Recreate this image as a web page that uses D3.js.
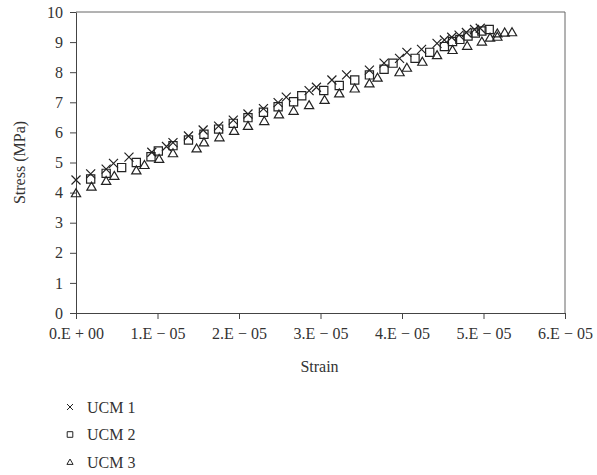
<!DOCTYPE html>
<html>
<head>
<meta charset="utf-8">
<script src="https://cdn.jsdelivr.net/npm/d3@7"></script>
<style>
  body { margin: 0; background: #fff; }
  text { font-family: "Liberation Serif", "DejaVu Serif", serif; fill: #333; }
</style>
</head>
<body>
<div id="chart"></div>
<script>
// strain in units of 1e-5, stress in MPa
var ucm1Strain = [0, 0.18, 0.37, 0.46, 0.65, 0.93, 1.11, 1.19, 1.38, 1.56, 1.75, 1.93, 2.11, 2.30, 2.48, 2.58, 2.86, 2.95, 3.14, 3.32, 3.60, 3.78, 3.97, 4.06, 4.24, 4.43, 4.52, 4.61, 4.70, 4.79, 4.89, 4.96]
var ucm1Stress = [4.42, 4.62, 4.78, 4.97, 5.18, 5.34, 5.53, 5.66, 5.88, 6.08, 6.21, 6.41, 6.61, 6.79, 6.99, 7.17, 7.39, 7.50, 7.74, 7.91, 8.07, 8.30, 8.46, 8.66, 8.76, 8.96, 9.07, 9.16, 9.23, 9.32, 9.42, 9.46]

var ucm2Strain = [0.18, 0.37, 0.56, 0.74, 0.92, 1.01, 1.19, 1.38, 1.57, 1.75, 1.93, 2.11, 2.30, 2.48, 2.67, 2.77, 3.04, 3.23, 3.42, 3.60, 3.78, 3.89, 4.16, 4.34, 4.52, 4.62, 4.71, 4.81, 4.90, 4.98, 5.07]
var ucm2Stress = [4.45, 4.64, 4.83, 5.00, 5.19, 5.38, 5.56, 5.75, 5.94, 6.11, 6.30, 6.49, 6.67, 6.85, 7.02, 7.22, 7.39, 7.56, 7.74, 7.91, 8.10, 8.30, 8.46, 8.66, 8.85, 9.02, 9.09, 9.20, 9.30, 9.37, 9.42]

var ucm3Strain = [0, 0.19, 0.37, 0.47, 0.74, 0.84, 1.02, 1.19, 1.48, 1.57, 1.76, 1.94, 2.11, 2.31, 2.49, 2.67, 2.86, 3.05, 3.23, 3.42, 3.60, 3.70, 3.97, 4.06, 4.25, 4.43, 4.62, 4.80, 4.98, 5.08, 5.17, 5.17, 5.26, 5.35]
var ucm3Stress = [3.98, 4.20, 4.39, 4.56, 4.74, 4.92, 5.12, 5.31, 5.47, 5.67, 5.84, 6.05, 6.22, 6.38, 6.60, 6.72, 6.91, 7.08, 7.30, 7.46, 7.63, 7.82, 8.00, 8.15, 8.35, 8.57, 8.74, 8.88, 9.02, 9.15, 9.18, 9.29, 9.32, 9.33]

var xTickLabels = ['0.E + 00', '1.E \u2212 05', '2.E \u2212 05', '3.E \u2212 05', '4.E \u2212 05', '5.E \u2212 05', '6.E \u2212 05']
var seriesNames = ['UCM 1', 'UCM 2', 'UCM 3']

var width = 597, height = 475
var margin = { left: 76, top: 12, right: 32, bottom: 162 }
var plotW = width - margin.left - margin.right
var plotH = height - margin.top - margin.bottom
var axisColor = '#444'
var fontSize = '16px'

var x = d3.scaleLinear().domain([0, 6]).range([0, plotW])
var y = d3.scaleLinear().domain([0, 10]).range([plotH, 0])

// marker path generators, s = half size
var markers = {
    cross: function(s) { return 'M' + -s + ',' + -s + 'L' + s + ',' + s + 'M' + -s + ',' + s + 'L' + s + ',' + -s },
    square: function(s) { return 'M' + -s + ',' + -s + 'H' + s + 'V' + s + 'H' + -s + 'Z' },
    triangle: function(s) { return 'M0,' + (-s * 1.05) + 'L' + (s * 1.1) + ',' + (s * 0.85) + 'L' + (-s * 1.1) + ',' + (s * 0.85) + 'Z' }
}

var series = [
    { name: seriesNames[0], shape: 'cross', size: 4.5, pts: d3.zip(ucm1Strain, ucm1Stress) },
    { name: seriesNames[1], shape: 'square', size: 4.1, pts: d3.zip(ucm2Strain, ucm2Stress) },
    { name: seriesNames[2], shape: 'triangle', size: 4.2, pts: d3.zip(ucm3Strain, ucm3Stress) }
]

var svg = d3.select('#chart').append('svg')
    .attr('width', width)
    .attr('height', height)

var g = svg.append('g')
    .attr('transform', 'translate(' + margin.left + ',' + margin.top + ')')

// frame (top and right)
g.append('path')
    .attr('d', 'M0,0H' + plotW + 'V' + plotH)
    .attr('fill', 'none')
    .attr('stroke', '#666')
    .attr('stroke-width', 1)

var xAxis = g.append('g')
    .attr('transform', 'translate(0,' + plotH + ')')
    .call(d3.axisBottom(x).ticks(6).tickSize(6).tickSizeOuter(0).tickFormat(function(d, i) { return xTickLabels[i] }))
xAxis.select('.domain').attr('stroke', axisColor)
xAxis.selectAll('line').attr('stroke', axisColor)
xAxis.selectAll('text')
    .attr('dy', '1.05em')
    .style('font-size', fontSize)
    .style('font-family', '"Liberation Serif", serif')
    .attr('fill', '#333')

var yAxis = g.append('g')
    .call(d3.axisLeft(y).ticks(10).tickSize(6).tickSizeOuter(0).tickPadding(7))
yAxis.select('.domain').attr('stroke', axisColor)
yAxis.selectAll('line').attr('stroke', axisColor)
yAxis.selectAll('text')
    .style('font-size', fontSize)
    .style('font-family', '"Liberation Serif", serif')
    .attr('fill', '#333')

// axis titles
svg.append('text')
    .attr('x', margin.left + plotW / 2 - 1)
    .attr('y', 372)
    .attr('text-anchor', 'middle')
    .style('font-size', fontSize)
    .text('Strain')

svg.append('text')
    .attr('transform', 'translate(25,' + (margin.top + plotH / 2) + ') rotate(-90)')
    .attr('text-anchor', 'middle')
    .style('font-size', fontSize)
    .text('Stress (MPa)')

// points
series.forEach(function(s) {
    g.append('g')
        .selectAll('path')
        .data(s.pts)
        .enter()
        .append('path')
        .attr('transform', function(d) { return 'translate(' + x(d[0]) + ',' + y(d[1]) + ')' })
        .attr('d', markers[s.shape](s.size))
        .attr('fill', 'none')
        .attr('stroke', '#222')
        .attr('stroke-width', 1.2)
})

// legend
var legend = svg.append('g')
    .attr('transform', 'translate(70,407)')

var rows = legend.selectAll('g')
    .data(series)
    .enter().append('g')
    .attr('transform', function(d, i) { return 'translate(0,' + (i * 27.5) + ')' })

rows.append('path')
    .attr('d', function(d) { return markers[d.shape](d.shape == 'cross' ? 3 : 2.8) })
    .attr('fill', 'none')
    .attr('stroke', '#222')
    .attr('stroke-width', 1)

rows.append('text')
    .attr('x', 17)
    .attr('dy', '0.35em')
    .style('font-size', fontSize)
    .text(function(d) { return d.name })
</script>
</body>
</html>
